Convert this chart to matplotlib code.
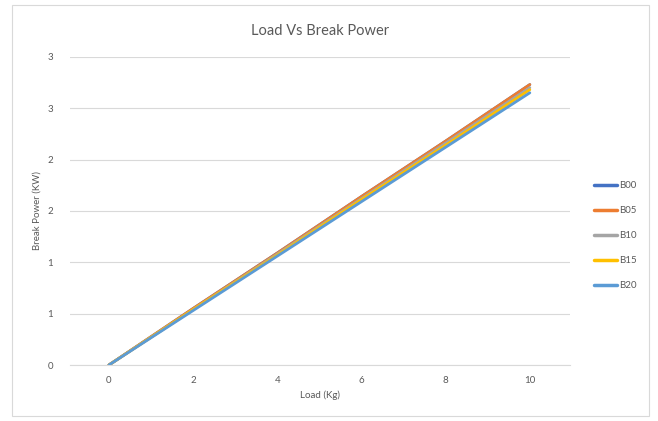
import matplotlib.pyplot as plt
from matplotlib.patches import Rectangle

# Load (kg) and break power (kW) for each blend
load = [0, 2, 4, 6, 8, 10]
b00 = [0, 0.55, 1.09, 1.64, 2.18, 2.73]
b05 = [0, 0.55, 1.09, 1.64, 2.18, 2.73]
b10 = [0, 0.54, 1.08, 1.62, 2.16, 2.70]
b15 = [0, 0.54, 1.07, 1.61, 2.14, 2.68]
b20 = [0, 0.53, 1.06, 1.59, 2.12, 2.65]

series = ['B00', 'B05', 'B10', 'B15', 'B20']
colors = ['#4472C4', '#ED7D31', '#A5A5A5', '#FFC000', '#5B9BD5']

y_ticks = [0, 0.5, 1, 1.5, 2, 2.5, 3]
y_labels = ['0', '1', '1', '2', '2', '3', '3']
x_ticks = [0, 2, 4, 6, 8, 10]

plt.rcParams['font.family'] = ['Lato', 'DejaVu Sans']
txt = '#595959'

fig = plt.figure(figsize=(6.58, 4.21), dpi=100)
ax = fig.add_axes([0.106, 0.133, 0.76, 0.732])

for name, vals, c in zip(series, [b00, b05, b10, b15, b20], colors):
    ax.plot(load, vals, color=c, lw=2.0, label=name, solid_capstyle='round')

ax.set_xlim(-0.93, 10.95)
ax.set_ylim(0, 3)
ax.set_yticks(y_ticks)
ax.set_yticklabels(y_labels)
ax.set_xticks(x_ticks)
ax.grid(axis='y', color='#D9D9D9', lw=0.8)
ax.set_axisbelow(True)
for s in ['top', 'right', 'left']:
    ax.spines[s].set_visible(False)
ax.spines['bottom'].set_color('#D9D9D9')
ax.tick_params(length=0, labelsize=7, colors=txt, pad=8)
ax.tick_params(axis='y', pad=12)

ax.set_title('Load Vs Break Power', fontsize=10.5, color=txt, pad=16)
ax.set_xlabel('Load (Kg)', fontsize=7, color=txt, labelpad=4)
ax.set_ylabel('Break Power (KW)', fontsize=7, color=txt, labelpad=4)

leg = ax.legend(loc='center left', bbox_to_anchor=(1.03, 0.42), frameon=False,
                fontsize=7, labelcolor=txt, handlelength=2.4, handletextpad=0.2,
                labelspacing=1.65)
for h in leg.legend_handles:
    h.set_linewidth(2.5)

fig.patches.append(Rectangle((0.018, 0.012), 0.968, 0.976, transform=fig.transFigure,
                             fill=False, edgecolor='#D9D9D9', lw=0.8))

fig.savefig('out.png', dpi=100)
